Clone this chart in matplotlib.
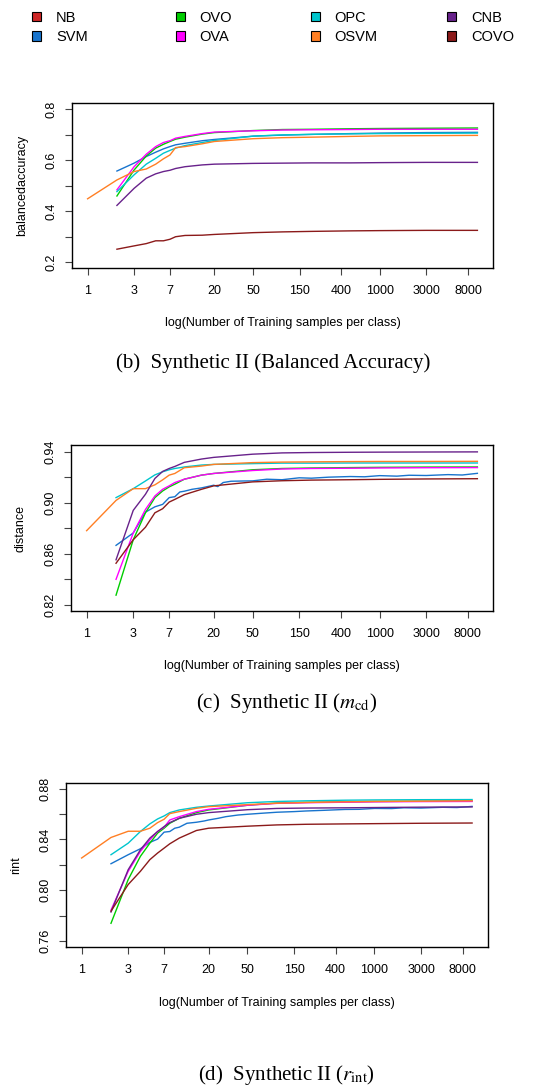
import numpy as np
import matplotlib
matplotlib.use("Agg")
import matplotlib.pyplot as plt
from matplotlib.patches import Patch
from matplotlib.ticker import NullLocator

plt.rcParams['font.family'] = ['Liberation Sans', 'DejaVu Sans']
plt.rcParams['mathtext.fontset'] = 'stix'

# ---------------- data ----------------
METHODS = ["NB", "SVM", "OVO", "OVA", "OPC", "OSVM", "CNB", "COVO"]
COLORS = {"NB": "#CD2626", "SVM": "#1874CD", "OVO": "#00CD00", "OVA": "#FF00FF",
          "OPC": "#00C5CD", "OSVM": "#FF7F24", "CNB": "#68228B", "COVO": "#8B1A1A"}

X = [2, 3, 4, 5, 6, 7, 8, 10, 15, 20, 50, 100, 200, 500, 1000, 3000, 10000]
X_OSVM = [1] + X
X_SVM_FINE = [2, 3, 4, 5, 6, 7, 8, 9, 10, 12, 15, 20, 22, 25, 30, 40, 50, 70, 100,
              150, 200, 300, 500, 700, 1000, 1500, 2000, 3000, 5000, 7000, 10000]
X_SVM_D = [2, 3, 4, 5, 6, 7, 8, 9, 10, 12, 15, 18, 20, 25, 30, 40, 50, 70, 100,
           150, 200, 300, 500, 700, 1000, 1500, 2000, 3000, 5000, 7000, 10000]

# (b) balanced accuracy
SVM_b = [0.558, 0.589, 0.615, 0.632, 0.645, 0.654, 0.661, 0.667, 0.677, 0.682, 0.695, 0.699, 0.702, 0.705, 0.707, 0.709, 0.710]
OVO_b = [0.460, 0.562, 0.617, 0.648, 0.663, 0.674, 0.683, 0.691, 0.703, 0.709, 0.717, 0.721, 0.722, 0.724, 0.725, 0.726, 0.727]
OVA_b = [0.484, 0.575, 0.624, 0.654, 0.670, 0.677, 0.687, 0.694, 0.705, 0.711, 0.716, 0.719, 0.720, 0.721, 0.722, 0.722, 0.722]
OPC_b = [0.477, 0.543, 0.585, 0.608, 0.628, 0.639, 0.648, 0.658, 0.670, 0.678, 0.695, 0.700, 0.702, 0.704, 0.705, 0.706, 0.707]
OSVM_b = [0.449, 0.523, 0.556, 0.566, 0.585, 0.606, 0.621, 0.650, 0.654, 0.665, 0.674, 0.685, 0.689, 0.691, 0.694, 0.696, 0.697, 0.698]
CNB_b = [0.423, 0.490, 0.530, 0.547, 0.556, 0.561, 0.568, 0.575, 0.582, 0.585, 0.588, 0.589, 0.590, 0.590, 0.591, 0.592, 0.592]
COVO_b = [0.251, 0.264, 0.273, 0.284, 0.284, 0.290, 0.300, 0.305, 0.306, 0.309, 0.316, 0.319, 0.321, 0.323, 0.324, 0.325, 0.325]

# (c) m_cd (distance)
SVM_c = [0.8666, 0.8763, 0.8926, 0.8968, 0.8987, 0.9040, 0.9047, 0.9084, 0.9090, 0.9105, 0.9116, 0.9137, 0.9126, 0.9158,
         0.9168, 0.9170, 0.9171, 0.9184, 0.9180, 0.9195, 0.9192, 0.9200, 0.9205, 0.9203, 0.9212, 0.9208, 0.9215,
         0.9213, 0.9220, 0.9217, 0.9230]
OVO_c = [0.8276, 0.8710, 0.8921, 0.9040, 0.9092, 0.9124, 0.9145, 0.9184, 0.9216, 0.9229, 0.9258, 0.9268, 0.9272, 0.9275, 0.9277, 0.9279, 0.9280]
OVA_c = [0.8400, 0.8763, 0.8947, 0.9053, 0.9105, 0.9132, 0.9158, 0.9184, 0.9216, 0.9229, 0.9252, 0.9264, 0.9268, 0.9270, 0.9272, 0.9274, 0.9275]
OPC_c = [0.9040, 0.9110, 0.9170, 0.9218, 0.9242, 0.9258, 0.9268, 0.9280, 0.9295, 0.9300, 0.9306, 0.9310, 0.9310, 0.9311, 0.9311, 0.9311, 0.9311]
OSVM_c = [0.8781, 0.9018, 0.9110, 0.9110, 0.9140, 0.9179, 0.9216, 0.9229, 0.9274, 0.9287, 0.9300, 0.9314, 0.9318, 0.9320, 0.9322, 0.9323, 0.9323, 0.9324]
CNB_c = [0.8553, 0.8940, 0.9066, 0.9190, 0.9245, 0.9268, 0.9284, 0.9316, 0.9342, 0.9355, 0.9380, 0.9390, 0.9393, 0.9395, 0.9396, 0.9397, 0.9398]
COVO_c = [0.8526, 0.8710, 0.8808, 0.8921, 0.8953, 0.9005, 0.9026, 0.9063, 0.9105, 0.9132, 0.9163, 0.9172, 0.9177, 0.9180, 0.9183, 0.9186, 0.9188]

# (d) r_int
SVM_d = [0.8209, 0.8280, 0.8327, 0.8377, 0.8403, 0.8458, 0.8463, 0.8489, 0.8497, 0.8528, 0.8536, 0.8546, 0.8554, 0.8567,
         0.8580, 0.8593, 0.8599, 0.8607, 0.8615, 0.8620, 0.8625, 0.8630, 0.8637, 0.8638, 0.8645, 0.8644, 0.8650,
         0.8648, 0.8654, 0.8652, 0.8661]
OVO_d = [0.7739, 0.8084, 0.8267, 0.8371, 0.8450, 0.8489, 0.8528, 0.8567, 0.8612, 0.8633, 0.8670, 0.8688, 0.8693, 0.8697, 0.8700, 0.8702, 0.8705]
OVA_d = [0.7843, 0.8149, 0.8306, 0.8397, 0.8463, 0.8497, 0.8554, 0.8580, 0.8620, 0.8638, 0.8670, 0.8685, 0.8690, 0.8694, 0.8697, 0.8699, 0.8700]
OPC_d = [0.8280, 0.8371, 0.8463, 0.8523, 0.8562, 0.8586, 0.8612, 0.8633, 0.8654, 0.8664, 0.8690, 0.8700, 0.8705, 0.8710, 0.8712, 0.8714, 0.8715]
OSVM_d = [0.8254, 0.8416, 0.8465, 0.8465, 0.8489, 0.8533, 0.8560, 0.8604, 0.8620, 0.8646, 0.8659, 0.8675, 0.8686, 0.8692, 0.8697, 0.8700, 0.8702, 0.8705]
CNB_d = [0.7828, 0.8162, 0.8319, 0.8411, 0.8463, 0.8502, 0.8533, 0.8567, 0.8599, 0.8612, 0.8635, 0.8645, 0.8648, 0.8650, 0.8652, 0.8655, 0.8657]
COVO_d = [0.7835, 0.8045, 0.8149, 0.8241, 0.8293, 0.8332, 0.8366, 0.8411, 0.8471, 0.8489, 0.8505, 0.8515, 0.8520, 0.8523, 0.8525, 0.8528, 0.8530]

XTICKS = [1, 3, 7, 20, 50, 150, 400, 1000, 3000, 8000]
XTICKLABELS = ["1", "3", "7", "20", "50", "150", "400", "1000", "3000", "8000"]
YTICKS_b = [0.2, 0.3, 0.4, 0.5, 0.6, 0.7, 0.8]
YLABELS_b = ["0.2", "", "0.4", "", "0.6", "", "0.8"]
YTICKS_c = [0.82, 0.84, 0.86, 0.88, 0.90, 0.92, 0.94]
YLABELS_c = ["0.82", "", "0.86", "", "0.90", "", "0.94"]
YTICKS_d = [0.76, 0.78, 0.80, 0.82, 0.84, 0.86, 0.88]
YLABELS_d = ["0.76", "", "0.80", "", "0.84", "", "0.88"]

XLABEL = "log(Number of Training samples per class)"
CAPTIONS = ["(b)  Synthetic II (Balanced Accuracy)",
            r"(c)  Synthetic II ($m_{\mathrm{cd}}$)",
            r"(d)  Synthetic II ($r_{\mathrm{int}}$)"]

# ---------------- layout ----------------
W, H = 549, 1086
fig = plt.figure(figsize=(W / 100, H / 100), dpi=100)


def rect(left, right, top, bottom):
    return [left / W, 1 - bottom / H, (right - left) / W, (bottom - top) / H]


panels = [
    dict(rect=rect(72, 493, 103.3, 268.3), ylim=(0.176, 0.824), yt=YTICKS_b, yl=YLABELS_b,
         ylabel="balancedaccuracy",
         series=[("SVM", X, SVM_b), ("OVO", X, OVO_b), ("OVA", X, OVA_b), ("OPC", X, OPC_b),
                 ("OSVM", X_OSVM, OSVM_b), ("CNB", X, CNB_b), ("COVO", X, COVO_b)],
         xlab_y=-0.348, ylab_x=-0.1176, cap=(273.5, 363)),
    dict(rect=rect(71, 493, 445.5, 611), ylim=(0.8152, 0.9448), yt=YTICKS_c, yl=YLABELS_c,
         ylabel="distance",
         series=[("SVM", X_SVM_FINE, SVM_c), ("OVO", X, OVO_c), ("OVA", X, OVA_c), ("OPC", X, OPC_c),
                 ("OSVM", X_OSVM, OSVM_c), ("CNB", X, CNB_c), ("COVO", X, COVO_c)],
         xlab_y=-0.3515, ylab_x=-0.119, cap=(286.5, 703)),
    dict(rect=rect(66, 487.7, 782.7, 947), ylim=(0.7552, 0.8848), yt=YTICKS_d, yl=YLABELS_d,
         ylabel="rint",
         series=[("SVM", X_SVM_D, SVM_d), ("OVO", X, OVO_d), ("OVA", X, OVA_d), ("OPC", X, OPC_d),
                 ("OSVM", X_OSVM, OSVM_d), ("CNB", X, CNB_d), ("COVO", X, COVO_d)],
         xlab_y=-0.358, ylab_x=-0.118, cap=(286, 1075)),
]

for i, p in enumerate(panels):
    ax = fig.add_axes(p["rect"])
    for name, xs, ys in p["series"]:
        ax.plot(xs, ys, color=COLORS[name], lw=1.0, solid_joinstyle="round")
    ax.set_xscale("log")
    ax.set_xlim(10 ** -0.16, 10 ** 4.16)
    ax.set_ylim(*p["ylim"])
    ax.set_xticks(XTICKS)
    ax.set_xticklabels(XTICKLABELS)
    ax.xaxis.set_minor_locator(NullLocator())
    ax.set_yticks(p["yt"])
    ax.set_yticklabels(p["yl"], rotation=90, va="center")
    ax.tick_params(axis="both", direction="out", length=5.2, width=0.8, color="#444444",
                   labelsize=9, labelcolor="black")
    ax.tick_params(axis="x", pad=6.7)
    ax.tick_params(axis="y", pad=5.0)
    for s in ax.spines.values():
        s.set_linewidth(1.0)
        s.set_color("black")
    ax.set_xlabel(XLABEL, fontsize=9)
    ax.xaxis.label.set_va("baseline")
    ax.xaxis.set_label_coords(0.5, p["xlab_y"])
    ax.set_ylabel(p["ylabel"], fontsize=9)
    ax.yaxis.label.set_va("center")
    ax.yaxis.set_label_coords(p["ylab_x"], 0.5)
    cx, cy = p["cap"]
    fig.text(cx / W, 1 - cy / H, CAPTIONS[i], ha="center", va="center",
             family=["Liberation Serif", "DejaVu Serif"], fontsize=15)

# ---------------- legend (4 columns x 2 rows) ----------------
col_left = [32.4, 175.7, 310.7, 447.4]
fs = 10.5
for c in range(4):
    names = METHODS[2 * c: 2 * c + 2]
    handles = [Patch(facecolor=COLORS[n], edgecolor="black", linewidth=0.8, label=n) for n in names]
    fig.legend(handles=handles, loc="upper left", bbox_to_anchor=(col_left[c] / W, 1 - 10.5 / H),
               frameon=False, borderpad=0, borderaxespad=0, fontsize=fs,
               handlelength=0.62, handleheight=0.62, handletextpad=1.0, labelspacing=0.4)

fig.savefig("out.png", dpi=100)
